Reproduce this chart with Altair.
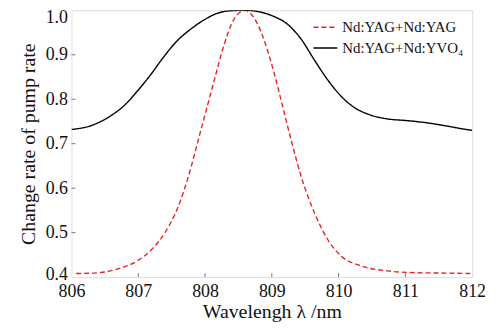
import altair as alt
import pandas as pd

# Wavelength (nm) and change rate of pump rate
yvo_wl = [806.0, 806.3, 806.59, 806.79, 806.99, 807.19, 807.39, 807.58, 807.78, 807.98, 808.18,
          808.38, 808.6, 808.8, 809.0, 809.24, 809.44, 809.63, 809.83, 810.03, 810.23, 810.43,
          810.72, 811.02, 811.32, 811.61, 811.91, 812.0]
yvo_val = [0.732, 0.741, 0.763, 0.786, 0.819, 0.856, 0.897, 0.931, 0.957, 0.978, 0.993,
           0.999, 1.000, 0.997, 0.988, 0.968, 0.935, 0.890, 0.845, 0.808, 0.782, 0.767,
           0.756, 0.752, 0.747, 0.740, 0.732, 0.730]

yag_wl = [806.07, 806.42, 806.71, 806.98, 807.2, 807.4, 807.6, 807.75, 807.93, 808.13, 808.28,
          808.43, 808.6, 808.79, 808.94, 809.04, 809.14, 809.29, 809.44, 809.64, 809.84,
          810.04, 810.34, 810.73, 811.13, 811.6, 812.0]
yag_val = [0.408, 0.410, 0.419, 0.436, 0.462, 0.500, 0.559, 0.626, 0.726, 0.838, 0.920,
           0.979, 1.000, 0.968, 0.908, 0.856, 0.797, 0.708, 0.626, 0.544, 0.484,
           0.447, 0.425, 0.414, 0.410, 0.409, 0.408]

series_names = ["Nd:YAG+Nd:YAG", "Nd:YAG+Nd:YVO\u2084"]
series_colors = ["#e8231f", "#000000"]
series_dashes = [[5, 3], [1, 0]]

x_ticks = [806, 807, 808, 809, 810, 811, 812]
y_ticks = [0.4, 0.5, 0.6, 0.7, 0.8, 0.9, 1.0]

df = pd.concat([
    pd.DataFrame({"wl": yag_wl, "val": yag_val, "series": series_names[0]}),
    pd.DataFrame({"wl": yvo_wl, "val": yvo_val, "series": series_names[1]}),
])

W, H = 404, 269
FONT = "Liberation Serif"
FRAME = "#777777"
TXT = "#111111"

xs = alt.Scale(domain=[806, 812], nice=False, zero=False)
ys = alt.Scale(domain=[0.4, 1.0], nice=False, zero=False)

legend = alt.Legend(title=None, orient="none", legendX=243, legendY=4,
                    symbolType="stroke", symbolSize=576, symbolStrokeWidth=1.5,
                    labelFont=FONT, labelFontSize=15, labelColor=TXT,
                    rowPadding=-12, labelOffset=4)

lines = alt.Chart(df).mark_line(strokeWidth=1.4, interpolate="monotone", clip=True).encode(
    x=alt.X("wl:Q", scale=xs,
            axis=alt.Axis(values=x_ticks, format="d", title="Wavelengh \u03bb /nm",
                          labelFontSize=18, titleFontSize=20, labelPadding=6, titlePadding=1,
                          labelFlush=False,
                          titleFontWeight="normal", labelFont=FONT, titleFont=FONT,
                          domain=False, ticks=False, grid=False, labelColor=TXT, titleColor=TXT)),
    y=alt.Y("val:Q", scale=ys,
            axis=alt.Axis(values=y_ticks, format=".1f", title="Change rate of pump rate",
                          labelFontSize=18, titleFontSize=20, labelPadding=4, titlePadding=7,
                          labelFlush=False,
                          labelOffset={"expr": "datum.value == 1 ? 7 : (datum.value < 0.45 ? -3 : 0)"},
                          titleFontWeight="normal", labelFont=FONT, titleFont=FONT,
                          domain=False, ticks=False, grid=False, labelColor=TXT, titleColor=TXT)),
    color=alt.Color("series:N", scale=alt.Scale(domain=series_names, range=series_colors),
                    legend=legend),
    strokeDash=alt.StrokeDash("series:N", scale=alt.Scale(domain=series_names, range=series_dashes),
                              legend=legend),
)

xt = pd.DataFrame({"t": x_ticks[1:-1]})
yt = pd.DataFrame({"t": y_ticks[1:-1]})

x_tick_marks = alt.Chart(xt).mark_rule(color=FRAME, strokeWidth=1).encode(
    x=alt.X("t:Q", scale=xs), y=alt.value(H - 4), y2=alt.value(H))
y_tick_marks = alt.Chart(yt).mark_rule(color=FRAME, strokeWidth=1).encode(
    y=alt.Y("t:Q", scale=ys), x=alt.value(0), x2=alt.value(4))

chart = alt.layer(lines, x_tick_marks, y_tick_marks).properties(
    width=W, height=H,
    autosize=alt.AutoSizeParams(type="none"),
    padding={"left": 64, "top": 1, "right": 18, "bottom": 50},
).configure_view(stroke=FRAME, strokeWidth=1.2).configure(background="white")

chart.save("out.html", embed_options={"renderer": "svg", "actions": False})
